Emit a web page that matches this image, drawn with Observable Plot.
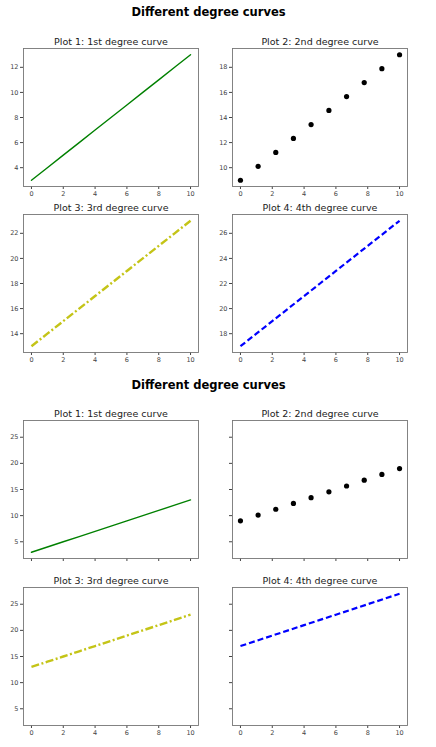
<!DOCTYPE html>
<html>
<head>
<meta charset="utf-8">
<script src="https://cdn.jsdelivr.net/npm/d3@7"></script>
<script src="https://cdn.jsdelivr.net/npm/@observablehq/plot@0.6"></script>
<style>
  body { margin: 0; background: #fff; }
  #chart { position: relative; width: 436px; height: 747px; background: #fff; font-family: "DejaVu Sans", sans-serif; }
  .suptitle { position: absolute; left: 0; width: 417px; text-align: center; font-weight: bold; font-size: 11.5px; color: #000; }
  #chart svg { position: absolute; }
</style>
</head>
<body>
<div id="chart"></div>
<script>
// the data
const xs = [0, 1, 2, 3, 4, 5, 6, 7, 8, 9, 10];
const first = [3, 4, 5, 6, 7, 8, 9, 10, 11, 12, 13];
const third = [13, 14, 15, 16, 17, 18, 19, 20, 21, 22, 23];
const fourth = [17, 18, 19, 20, 21, 22, 23, 24, 25, 26, 27];
const dotX = [0, 1.11, 2.22, 3.33, 4.44, 5.56, 6.67, 7.78, 8.89, 10];
const dotY = [9, 10.11, 11.22, 12.33, 13.44, 14.56, 15.67, 16.78, 17.89, 19];

const titles = ["Plot 1: 1st degree curve", "Plot 2: 2nd degree curve", "Plot 3: 3rd degree curve", "Plot 4: 4th degree curve"];
const figTitle = "Different degree curves";
const xTicks = [0, 2, 4, 6, 8, 10];
const yTicksOwn = [[4, 6, 8, 10, 12], [10, 12, 14, 16, 18], [14, 16, 18, 20, 22], [18, 20, 22, 24, 26]];
const yDomainsOwn = [[2.5, 13.5], [8.5, 19.5], [12.5, 23.5], [16.5, 27.5]];
const yTicksShared = [5, 10, 15, 20, 25];
const yDomainShared = [1.8, 28.2];

const chart = document.getElementById("chart");

// marks for each of the 4 panels
function panelMarks(i) {
    if (i === 0) return [Plot.line(first, { x: xs, y: first, stroke: "green", strokeWidth: 1.4 })];
    if (i === 1) return [Plot.dot(dotY, { x: dotX, y: dotY, r: 2.6, fill: "black", stroke: "none" })];
    if (i === 2) return [Plot.line(third, { x: xs, y: third, stroke: "#c4c417", strokeWidth: 2.4,
        strokeDasharray: "8,2.5,2,2.5", strokeLinecap: "butt" })];
    return [Plot.line(fourth, { x: xs, y: fourth, stroke: "blue", strokeWidth: 2.2,
        strokeDasharray: "6,3", strokeLinecap: "butt" })];
}

function subplot(i, frameLeft, frameTop, yDomain, yTicks, showX, showY) {
    const plot = Plot.plot({
        width: 200,
        height: 174,
        marginLeft: 23,
        marginRight: 2,
        marginTop: 22,
        marginBottom: 14,
        x: { domain: [-0.5, 10.5] },
        y: { domain: yDomain },
        style: { fontFamily: "DejaVu Sans, sans-serif", color: "#444", background: "transparent" },
        marks: [
            ...panelMarks(i),
            Plot.axisX({ ticks: xTicks, tickSize: 3, tickPadding: 2, fontSize: 6.5, label: null,
                tickFormat: showX ? d => d : () => "" }),
            Plot.axisY({ ticks: yTicks, tickSize: 3, tickPadding: 2, fontSize: 6.5, label: null,
                tickFormat: showY ? d => d : () => "" }),
            Plot.frame({ stroke: "#777", strokeWidth: 0.9 }),
            Plot.text([titles[i]], { frameAnchor: "top", lineAnchor: "bottom", dy: -4, fontSize: 9.5, fill: "#222" })
        ]
    });
    plot.style.left = (frameLeft - 23) + "px";
    plot.style.top = (frameTop - 22) + "px";
    chart.appendChild(plot);
}

function suptitle(y) {
    const d = document.createElement("div");
    d.className = "suptitle";
    d.style.top = y + "px";
    d.textContent = figTitle;
    chart.appendChild(d);
}

const lefts = [22.7, 232, 22.7, 232];

// figure 1: each panel has its own y axis
suptitle(5);
const tops1 = [48, 48, 214, 214];
for (let i = 0; i < 4; i++) {
    subplot(i, lefts[i], tops1[i], yDomainsOwn[i], yTicksOwn[i], true, true);
}

// figure 2: shared x and y
suptitle(378);
const tops2 = [420, 420, 587, 587];
for (let i = 0; i < 4; i++) {
    subplot(i, lefts[i], tops2[i], yDomainShared, yTicksShared, i >= 2, i % 2 === 0);
}
</script>
</body>
</html>
